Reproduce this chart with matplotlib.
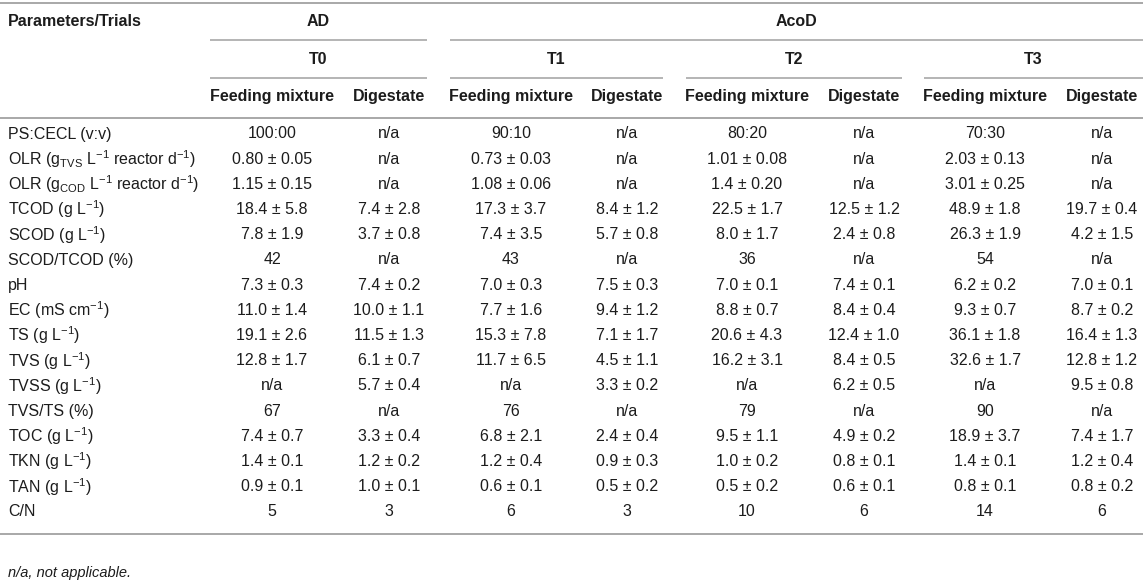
import matplotlib
matplotlib.use("Agg")
import matplotlib.pyplot as plt

plt.rcParams['font.family'] = ['Liberation Sans', 'DejaVu Sans']
plt.rcParams['mathtext.fontset'] = 'custom'
plt.rcParams['mathtext.rm'] = 'Liberation Sans'
plt.rcParams['mathtext.it'] = 'Liberation Sans:italic'
plt.rcParams['mathtext.bf'] = 'Liberation Sans:bold'

# table contents
groups = ["AD", "AcoD"]
trials = ["T0", "T1", "T2", "T3"]
subcols = ["Feeding mixture", "Digestate"]

params = [
    "PS:CECL (v:v)",
    r"OLR (g$_{\mathregular{TVS}}$ L$^{\mathregular{-1}}$ reactor d$^{\mathregular{-1}}$)",
    r"OLR (g$_{\mathregular{COD}}$ L$^{\mathregular{-1}}$ reactor d$^{\mathregular{-1}}$)",
    r"TCOD (g L$^{\mathregular{-1}}$)",
    r"SCOD (g L$^{\mathregular{-1}}$)",
    "SCOD/TCOD (%)",
    "pH",
    r"EC (mS cm$^{\mathregular{-1}}$)",
    r"TS (g L$^{\mathregular{-1}}$)",
    r"TVS (g L$^{\mathregular{-1}}$)",
    r"TVSS (g L$^{\mathregular{-1}}$)",
    "TVS/TS (%)",
    r"TOC (g L$^{\mathregular{-1}}$)",
    r"TKN (g L$^{\mathregular{-1}}$)",
    r"TAN (g L$^{\mathregular{-1}}$)",
    "C/N",
]

t0_feed = ["100:00", "0.80 ± 0.05", "1.15 ± 0.15", "18.4 ± 5.8", "7.8 ± 1.9", "42",
           "7.3 ± 0.3", "11.0 ± 1.4", "19.1 ± 2.6", "12.8 ± 1.7", "n/a", "67",
           "7.4 ± 0.7", "1.4 ± 0.1", "0.9 ± 0.1", "5"]
t0_dig = ["n/a", "n/a", "n/a", "7.4 ± 2.8", "3.7 ± 0.8", "n/a",
          "7.4 ± 0.2", "10.0 ± 1.1", "11.5 ± 1.3", "6.1 ± 0.7", "5.7 ± 0.4", "n/a",
          "3.3 ± 0.4", "1.2 ± 0.2", "1.0 ± 0.1", "3"]
t1_feed = ["90:10", "0.73 ± 0.03", "1.08 ± 0.06", "17.3 ± 3.7", "7.4 ± 3.5", "43",
           "7.0 ± 0.3", "7.7 ± 1.6", "15.3 ± 7.8", "11.7 ± 6.5", "n/a", "76",
           "6.8 ± 2.1", "1.2 ± 0.4", "0.6 ± 0.1", "6"]
t1_dig = ["n/a", "n/a", "n/a", "8.4 ± 1.2", "5.7 ± 0.8", "n/a",
          "7.5 ± 0.3", "9.4 ± 1.2", "7.1 ± 1.7", "4.5 ± 1.1", "3.3 ± 0.2", "n/a",
          "2.4 ± 0.4", "0.9 ± 0.3", "0.5 ± 0.2", "3"]
t2_feed = ["80:20", "1.01 ± 0.08", "1.4 ± 0.20", "22.5 ± 1.7", "8.0 ± 1.7", "36",
           "7.0 ± 0.1", "8.8 ± 0.7", "20.6 ± 4.3", "16.2 ± 3.1", "n/a", "79",
           "9.5 ± 1.1", "1.0 ± 0.2", "0.5 ± 0.2", "10"]
t2_dig = ["n/a", "n/a", "n/a", "12.5 ± 1.2", "2.4 ± 0.8", "n/a",
          "7.4 ± 0.1", "8.4 ± 0.4", "12.4 ± 1.0", "8.4 ± 0.5", "6.2 ± 0.5", "n/a",
          "4.9 ± 0.2", "0.8 ± 0.1", "0.6 ± 0.1", "6"]
t3_feed = ["70:30", "2.03 ± 0.13", "3.01 ± 0.25", "48.9 ± 1.8", "26.3 ± 1.9", "54",
           "6.2 ± 0.2", "9.3 ± 0.7", "36.1 ± 1.8", "32.6 ± 1.7", "n/a", "90",
           "18.9 ± 3.7", "1.4 ± 0.1", "0.8 ± 0.1", "14"]
t3_dig = ["n/a", "n/a", "n/a", "19.7 ± 0.4", "4.2 ± 1.5", "n/a",
          "7.0 ± 0.1", "8.7 ± 0.2", "16.4 ± 1.3", "12.8 ± 1.2", "9.5 ± 0.8", "n/a",
          "7.4 ± 1.7", "1.2 ± 0.4", "0.8 ± 0.2", "6"]
columns = [t0_feed, t0_dig, t1_feed, t1_dig, t2_feed, t2_dig, t3_feed, t3_dig]

footnote = "n/a, not applicable."

# layout (pixel coordinates)
W, H = 1143, 585
col_x = [272, 389, 511, 627, 747, 864, 985, 1102]
trial_span = [(210, 427), (450, 663), (686, 902), (924, 1143)]
group_span = [(210, 427), (450, 1143)]
row0, row_step = 134, 25.2
txt = "#1c1c1c"
rule = "#a8a8a8"
fs = 11.5

fig = plt.figure(figsize=(W / 100, H / 100), dpi=100)
ax = fig.add_axes([0, 0, 1, 1])
ax.set_xlim(0, W)
ax.set_ylim(H, 0)
ax.axis("off")

# rules
for y in (2.5, 117.5, 533.5):
    ax.plot([0, W], [y, y], color=rule, lw=1.4, solid_capstyle="butt")
for a, b in group_span:
    ax.plot([a, b], [40, 40], color=rule, lw=1.2, solid_capstyle="butt")
for a, b in trial_span:
    ax.plot([a, b], [78, 78], color=rule, lw=1.2, solid_capstyle="butt")

# header
ax.text(8, 21, "Parameters/Trials", fontsize=fs, fontweight="bold", color=txt,
        ha="left", va="center")
for g, (a, b) in zip(groups, group_span):
    ax.text((a + b) / 2, 21, g, fontsize=fs, fontweight="bold", color=txt,
            ha="center", va="center")
for t, (a, b) in zip(trials, trial_span):
    ax.text((a + b) / 2, 59, t, fontsize=fs, fontweight="bold", color=txt,
            ha="center", va="center")
for i, x in enumerate(col_x):
    ax.text(x, 97, subcols[i % 2], fontsize=fs, fontweight="bold", color=txt,
            ha="center", va="center")

# body
for r, p in enumerate(params):
    y = row0 + r * row_step
    ax.text(8, y, p, fontsize=fs, color=txt, ha="left", va="center")
    for x, col in zip(col_x, columns):
        ax.text(x, y, col[r], fontsize=fs, color=txt, ha="center", va="center")

ax.text(8, 573, footnote, fontsize=fs - 1, style="italic", color=txt,
        ha="left", va="center")

fig.savefig("out.png", dpi=100)
